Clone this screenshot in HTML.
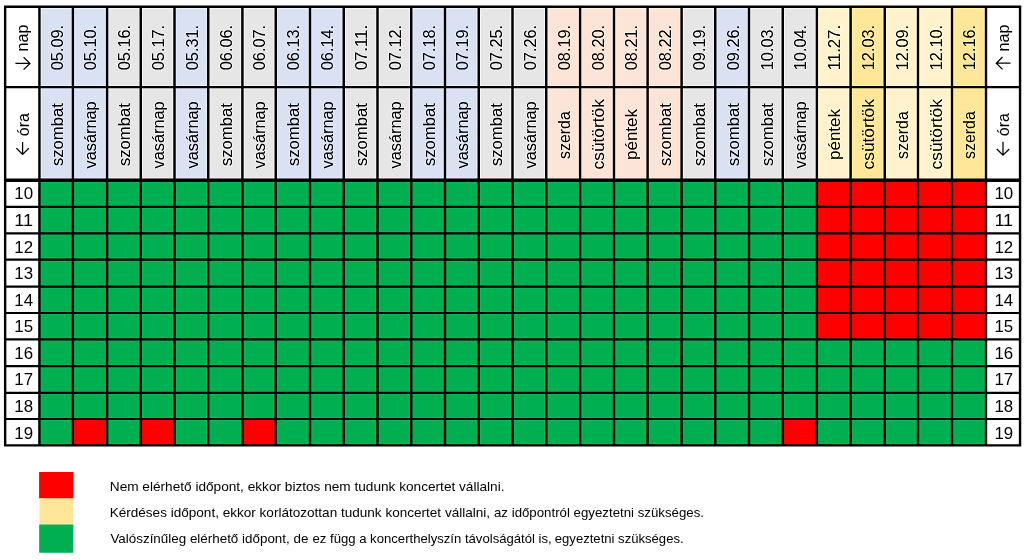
<!DOCTYPE html><html><head><meta charset="utf-8"><style>html,body{margin:0;padding:0;background:#fff;width:1024px;height:560px;overflow:hidden}svg{display:block}text{font-family:"Liberation Sans",sans-serif;fill:#000}</style></head><body><svg width="1024" height="560" viewBox="0 0 1024 560"><rect width="1024" height="560" fill="#fff"/><defs><filter id="sh" x="0" y="0" width="1024" height="560" filterUnits="userSpaceOnUse" color-interpolation-filters="sRGB"><feConvolveMatrix order="3" kernelMatrix="0 -0.08 0 -0.08 1.32 -0.08 0 -0.08 0" edgeMode="duplicate" preserveAlpha="true"/></filter></defs><g filter="url(#sh)"><rect x="39.40" y="5.50" width="33.50" height="174.80" fill="#D9E1F2"/><rect x="72.90" y="5.50" width="34.20" height="174.80" fill="#D9E1F2"/><rect x="107.10" y="5.50" width="33.65" height="174.80" fill="#E7E6E6"/><rect x="140.75" y="5.50" width="33.75" height="174.80" fill="#E7E6E6"/><rect x="174.50" y="5.50" width="33.75" height="174.80" fill="#D9E1F2"/><rect x="208.25" y="5.50" width="34.15" height="174.80" fill="#E7E6E6"/><rect x="242.40" y="5.50" width="33.35" height="174.80" fill="#E7E6E6"/><rect x="275.75" y="5.50" width="34.25" height="174.80" fill="#D9E1F2"/><rect x="310.00" y="5.50" width="33.75" height="174.80" fill="#D9E1F2"/><rect x="343.75" y="5.50" width="33.75" height="174.80" fill="#E7E6E6"/><rect x="377.50" y="5.50" width="33.75" height="174.80" fill="#E7E6E6"/><rect x="411.25" y="5.50" width="33.75" height="174.80" fill="#D9E1F2"/><rect x="445.00" y="5.50" width="33.75" height="174.80" fill="#D9E1F2"/><rect x="478.75" y="5.50" width="33.75" height="174.80" fill="#E7E6E6"/><rect x="512.50" y="5.50" width="33.75" height="174.80" fill="#E7E6E6"/><rect x="546.25" y="5.50" width="33.85" height="174.80" fill="#FCE4D6"/><rect x="580.10" y="5.50" width="33.90" height="174.80" fill="#FCE4D6"/><rect x="614.00" y="5.50" width="33.60" height="174.80" fill="#FCE4D6"/><rect x="647.60" y="5.50" width="34.00" height="174.80" fill="#FCE4D6"/><rect x="681.60" y="5.50" width="33.65" height="174.80" fill="#E7E6E6"/><rect x="715.25" y="5.50" width="33.75" height="174.80" fill="#D9E1F2"/><rect x="749.00" y="5.50" width="33.75" height="174.80" fill="#E7E6E6"/><rect x="782.75" y="5.50" width="34.15" height="174.80" fill="#E7E6E6"/><rect x="816.90" y="5.50" width="33.70" height="174.80" fill="#FFF2CC"/><rect x="850.60" y="5.50" width="34.15" height="174.80" fill="#FFE699"/><rect x="884.75" y="5.50" width="33.25" height="174.80" fill="#FFF2CC"/><rect x="918.00" y="5.50" width="34.00" height="174.80" fill="#FFF2CC"/><rect x="952.00" y="5.50" width="34.00" height="174.80" fill="#FFE699"/><rect x="39.40" y="180.30" width="33.50" height="26.57" fill="#00B050"/><rect x="72.90" y="180.30" width="34.20" height="26.57" fill="#00B050"/><rect x="107.10" y="180.30" width="33.65" height="26.57" fill="#00B050"/><rect x="140.75" y="180.30" width="33.75" height="26.57" fill="#00B050"/><rect x="174.50" y="180.30" width="33.75" height="26.57" fill="#00B050"/><rect x="208.25" y="180.30" width="34.15" height="26.57" fill="#00B050"/><rect x="242.40" y="180.30" width="33.35" height="26.57" fill="#00B050"/><rect x="275.75" y="180.30" width="34.25" height="26.57" fill="#00B050"/><rect x="310.00" y="180.30" width="33.75" height="26.57" fill="#00B050"/><rect x="343.75" y="180.30" width="33.75" height="26.57" fill="#00B050"/><rect x="377.50" y="180.30" width="33.75" height="26.57" fill="#00B050"/><rect x="411.25" y="180.30" width="33.75" height="26.57" fill="#00B050"/><rect x="445.00" y="180.30" width="33.75" height="26.57" fill="#00B050"/><rect x="478.75" y="180.30" width="33.75" height="26.57" fill="#00B050"/><rect x="512.50" y="180.30" width="33.75" height="26.57" fill="#00B050"/><rect x="546.25" y="180.30" width="33.85" height="26.57" fill="#00B050"/><rect x="580.10" y="180.30" width="33.90" height="26.57" fill="#00B050"/><rect x="614.00" y="180.30" width="33.60" height="26.57" fill="#00B050"/><rect x="647.60" y="180.30" width="34.00" height="26.57" fill="#00B050"/><rect x="681.60" y="180.30" width="33.65" height="26.57" fill="#00B050"/><rect x="715.25" y="180.30" width="33.75" height="26.57" fill="#00B050"/><rect x="749.00" y="180.30" width="33.75" height="26.57" fill="#00B050"/><rect x="782.75" y="180.30" width="34.15" height="26.57" fill="#00B050"/><rect x="816.90" y="180.30" width="33.70" height="26.57" fill="#FF0000"/><rect x="850.60" y="180.30" width="34.15" height="26.57" fill="#FF0000"/><rect x="884.75" y="180.30" width="33.25" height="26.57" fill="#FF0000"/><rect x="918.00" y="180.30" width="34.00" height="26.57" fill="#FF0000"/><rect x="952.00" y="180.30" width="34.00" height="26.57" fill="#FF0000"/><rect x="39.40" y="206.87" width="33.50" height="26.43" fill="#00B050"/><rect x="72.90" y="206.87" width="34.20" height="26.43" fill="#00B050"/><rect x="107.10" y="206.87" width="33.65" height="26.43" fill="#00B050"/><rect x="140.75" y="206.87" width="33.75" height="26.43" fill="#00B050"/><rect x="174.50" y="206.87" width="33.75" height="26.43" fill="#00B050"/><rect x="208.25" y="206.87" width="34.15" height="26.43" fill="#00B050"/><rect x="242.40" y="206.87" width="33.35" height="26.43" fill="#00B050"/><rect x="275.75" y="206.87" width="34.25" height="26.43" fill="#00B050"/><rect x="310.00" y="206.87" width="33.75" height="26.43" fill="#00B050"/><rect x="343.75" y="206.87" width="33.75" height="26.43" fill="#00B050"/><rect x="377.50" y="206.87" width="33.75" height="26.43" fill="#00B050"/><rect x="411.25" y="206.87" width="33.75" height="26.43" fill="#00B050"/><rect x="445.00" y="206.87" width="33.75" height="26.43" fill="#00B050"/><rect x="478.75" y="206.87" width="33.75" height="26.43" fill="#00B050"/><rect x="512.50" y="206.87" width="33.75" height="26.43" fill="#00B050"/><rect x="546.25" y="206.87" width="33.85" height="26.43" fill="#00B050"/><rect x="580.10" y="206.87" width="33.90" height="26.43" fill="#00B050"/><rect x="614.00" y="206.87" width="33.60" height="26.43" fill="#00B050"/><rect x="647.60" y="206.87" width="34.00" height="26.43" fill="#00B050"/><rect x="681.60" y="206.87" width="33.65" height="26.43" fill="#00B050"/><rect x="715.25" y="206.87" width="33.75" height="26.43" fill="#00B050"/><rect x="749.00" y="206.87" width="33.75" height="26.43" fill="#00B050"/><rect x="782.75" y="206.87" width="34.15" height="26.43" fill="#00B050"/><rect x="816.90" y="206.87" width="33.70" height="26.43" fill="#FF0000"/><rect x="850.60" y="206.87" width="34.15" height="26.43" fill="#FF0000"/><rect x="884.75" y="206.87" width="33.25" height="26.43" fill="#FF0000"/><rect x="918.00" y="206.87" width="34.00" height="26.43" fill="#FF0000"/><rect x="952.00" y="206.87" width="34.00" height="26.43" fill="#FF0000"/><rect x="39.40" y="233.30" width="33.50" height="26.30" fill="#00B050"/><rect x="72.90" y="233.30" width="34.20" height="26.30" fill="#00B050"/><rect x="107.10" y="233.30" width="33.65" height="26.30" fill="#00B050"/><rect x="140.75" y="233.30" width="33.75" height="26.30" fill="#00B050"/><rect x="174.50" y="233.30" width="33.75" height="26.30" fill="#00B050"/><rect x="208.25" y="233.30" width="34.15" height="26.30" fill="#00B050"/><rect x="242.40" y="233.30" width="33.35" height="26.30" fill="#00B050"/><rect x="275.75" y="233.30" width="34.25" height="26.30" fill="#00B050"/><rect x="310.00" y="233.30" width="33.75" height="26.30" fill="#00B050"/><rect x="343.75" y="233.30" width="33.75" height="26.30" fill="#00B050"/><rect x="377.50" y="233.30" width="33.75" height="26.30" fill="#00B050"/><rect x="411.25" y="233.30" width="33.75" height="26.30" fill="#00B050"/><rect x="445.00" y="233.30" width="33.75" height="26.30" fill="#00B050"/><rect x="478.75" y="233.30" width="33.75" height="26.30" fill="#00B050"/><rect x="512.50" y="233.30" width="33.75" height="26.30" fill="#00B050"/><rect x="546.25" y="233.30" width="33.85" height="26.30" fill="#00B050"/><rect x="580.10" y="233.30" width="33.90" height="26.30" fill="#00B050"/><rect x="614.00" y="233.30" width="33.60" height="26.30" fill="#00B050"/><rect x="647.60" y="233.30" width="34.00" height="26.30" fill="#00B050"/><rect x="681.60" y="233.30" width="33.65" height="26.30" fill="#00B050"/><rect x="715.25" y="233.30" width="33.75" height="26.30" fill="#00B050"/><rect x="749.00" y="233.30" width="33.75" height="26.30" fill="#00B050"/><rect x="782.75" y="233.30" width="34.15" height="26.30" fill="#00B050"/><rect x="816.90" y="233.30" width="33.70" height="26.30" fill="#FF0000"/><rect x="850.60" y="233.30" width="34.15" height="26.30" fill="#FF0000"/><rect x="884.75" y="233.30" width="33.25" height="26.30" fill="#FF0000"/><rect x="918.00" y="233.30" width="34.00" height="26.30" fill="#FF0000"/><rect x="952.00" y="233.30" width="34.00" height="26.30" fill="#FF0000"/><rect x="39.40" y="259.60" width="33.50" height="27.05" fill="#00B050"/><rect x="72.90" y="259.60" width="34.20" height="27.05" fill="#00B050"/><rect x="107.10" y="259.60" width="33.65" height="27.05" fill="#00B050"/><rect x="140.75" y="259.60" width="33.75" height="27.05" fill="#00B050"/><rect x="174.50" y="259.60" width="33.75" height="27.05" fill="#00B050"/><rect x="208.25" y="259.60" width="34.15" height="27.05" fill="#00B050"/><rect x="242.40" y="259.60" width="33.35" height="27.05" fill="#00B050"/><rect x="275.75" y="259.60" width="34.25" height="27.05" fill="#00B050"/><rect x="310.00" y="259.60" width="33.75" height="27.05" fill="#00B050"/><rect x="343.75" y="259.60" width="33.75" height="27.05" fill="#00B050"/><rect x="377.50" y="259.60" width="33.75" height="27.05" fill="#00B050"/><rect x="411.25" y="259.60" width="33.75" height="27.05" fill="#00B050"/><rect x="445.00" y="259.60" width="33.75" height="27.05" fill="#00B050"/><rect x="478.75" y="259.60" width="33.75" height="27.05" fill="#00B050"/><rect x="512.50" y="259.60" width="33.75" height="27.05" fill="#00B050"/><rect x="546.25" y="259.60" width="33.85" height="27.05" fill="#00B050"/><rect x="580.10" y="259.60" width="33.90" height="27.05" fill="#00B050"/><rect x="614.00" y="259.60" width="33.60" height="27.05" fill="#00B050"/><rect x="647.60" y="259.60" width="34.00" height="27.05" fill="#00B050"/><rect x="681.60" y="259.60" width="33.65" height="27.05" fill="#00B050"/><rect x="715.25" y="259.60" width="33.75" height="27.05" fill="#00B050"/><rect x="749.00" y="259.60" width="33.75" height="27.05" fill="#00B050"/><rect x="782.75" y="259.60" width="34.15" height="27.05" fill="#00B050"/><rect x="816.90" y="259.60" width="33.70" height="27.05" fill="#FF0000"/><rect x="850.60" y="259.60" width="34.15" height="27.05" fill="#FF0000"/><rect x="884.75" y="259.60" width="33.25" height="27.05" fill="#FF0000"/><rect x="918.00" y="259.60" width="34.00" height="27.05" fill="#FF0000"/><rect x="952.00" y="259.60" width="34.00" height="27.05" fill="#FF0000"/><rect x="39.40" y="286.65" width="33.50" height="26.35" fill="#00B050"/><rect x="72.90" y="286.65" width="34.20" height="26.35" fill="#00B050"/><rect x="107.10" y="286.65" width="33.65" height="26.35" fill="#00B050"/><rect x="140.75" y="286.65" width="33.75" height="26.35" fill="#00B050"/><rect x="174.50" y="286.65" width="33.75" height="26.35" fill="#00B050"/><rect x="208.25" y="286.65" width="34.15" height="26.35" fill="#00B050"/><rect x="242.40" y="286.65" width="33.35" height="26.35" fill="#00B050"/><rect x="275.75" y="286.65" width="34.25" height="26.35" fill="#00B050"/><rect x="310.00" y="286.65" width="33.75" height="26.35" fill="#00B050"/><rect x="343.75" y="286.65" width="33.75" height="26.35" fill="#00B050"/><rect x="377.50" y="286.65" width="33.75" height="26.35" fill="#00B050"/><rect x="411.25" y="286.65" width="33.75" height="26.35" fill="#00B050"/><rect x="445.00" y="286.65" width="33.75" height="26.35" fill="#00B050"/><rect x="478.75" y="286.65" width="33.75" height="26.35" fill="#00B050"/><rect x="512.50" y="286.65" width="33.75" height="26.35" fill="#00B050"/><rect x="546.25" y="286.65" width="33.85" height="26.35" fill="#00B050"/><rect x="580.10" y="286.65" width="33.90" height="26.35" fill="#00B050"/><rect x="614.00" y="286.65" width="33.60" height="26.35" fill="#00B050"/><rect x="647.60" y="286.65" width="34.00" height="26.35" fill="#00B050"/><rect x="681.60" y="286.65" width="33.65" height="26.35" fill="#00B050"/><rect x="715.25" y="286.65" width="33.75" height="26.35" fill="#00B050"/><rect x="749.00" y="286.65" width="33.75" height="26.35" fill="#00B050"/><rect x="782.75" y="286.65" width="34.15" height="26.35" fill="#00B050"/><rect x="816.90" y="286.65" width="33.70" height="26.35" fill="#FF0000"/><rect x="850.60" y="286.65" width="34.15" height="26.35" fill="#FF0000"/><rect x="884.75" y="286.65" width="33.25" height="26.35" fill="#FF0000"/><rect x="918.00" y="286.65" width="34.00" height="26.35" fill="#FF0000"/><rect x="952.00" y="286.65" width="34.00" height="26.35" fill="#FF0000"/><rect x="39.40" y="313.00" width="33.50" height="26.43" fill="#00B050"/><rect x="72.90" y="313.00" width="34.20" height="26.43" fill="#00B050"/><rect x="107.10" y="313.00" width="33.65" height="26.43" fill="#00B050"/><rect x="140.75" y="313.00" width="33.75" height="26.43" fill="#00B050"/><rect x="174.50" y="313.00" width="33.75" height="26.43" fill="#00B050"/><rect x="208.25" y="313.00" width="34.15" height="26.43" fill="#00B050"/><rect x="242.40" y="313.00" width="33.35" height="26.43" fill="#00B050"/><rect x="275.75" y="313.00" width="34.25" height="26.43" fill="#00B050"/><rect x="310.00" y="313.00" width="33.75" height="26.43" fill="#00B050"/><rect x="343.75" y="313.00" width="33.75" height="26.43" fill="#00B050"/><rect x="377.50" y="313.00" width="33.75" height="26.43" fill="#00B050"/><rect x="411.25" y="313.00" width="33.75" height="26.43" fill="#00B050"/><rect x="445.00" y="313.00" width="33.75" height="26.43" fill="#00B050"/><rect x="478.75" y="313.00" width="33.75" height="26.43" fill="#00B050"/><rect x="512.50" y="313.00" width="33.75" height="26.43" fill="#00B050"/><rect x="546.25" y="313.00" width="33.85" height="26.43" fill="#00B050"/><rect x="580.10" y="313.00" width="33.90" height="26.43" fill="#00B050"/><rect x="614.00" y="313.00" width="33.60" height="26.43" fill="#00B050"/><rect x="647.60" y="313.00" width="34.00" height="26.43" fill="#00B050"/><rect x="681.60" y="313.00" width="33.65" height="26.43" fill="#00B050"/><rect x="715.25" y="313.00" width="33.75" height="26.43" fill="#00B050"/><rect x="749.00" y="313.00" width="33.75" height="26.43" fill="#00B050"/><rect x="782.75" y="313.00" width="34.15" height="26.43" fill="#00B050"/><rect x="816.90" y="313.00" width="33.70" height="26.43" fill="#FF0000"/><rect x="850.60" y="313.00" width="34.15" height="26.43" fill="#FF0000"/><rect x="884.75" y="313.00" width="33.25" height="26.43" fill="#FF0000"/><rect x="918.00" y="313.00" width="34.00" height="26.43" fill="#FF0000"/><rect x="952.00" y="313.00" width="34.00" height="26.43" fill="#FF0000"/><rect x="39.40" y="339.43" width="33.50" height="26.67" fill="#00B050"/><rect x="72.90" y="339.43" width="34.20" height="26.67" fill="#00B050"/><rect x="107.10" y="339.43" width="33.65" height="26.67" fill="#00B050"/><rect x="140.75" y="339.43" width="33.75" height="26.67" fill="#00B050"/><rect x="174.50" y="339.43" width="33.75" height="26.67" fill="#00B050"/><rect x="208.25" y="339.43" width="34.15" height="26.67" fill="#00B050"/><rect x="242.40" y="339.43" width="33.35" height="26.67" fill="#00B050"/><rect x="275.75" y="339.43" width="34.25" height="26.67" fill="#00B050"/><rect x="310.00" y="339.43" width="33.75" height="26.67" fill="#00B050"/><rect x="343.75" y="339.43" width="33.75" height="26.67" fill="#00B050"/><rect x="377.50" y="339.43" width="33.75" height="26.67" fill="#00B050"/><rect x="411.25" y="339.43" width="33.75" height="26.67" fill="#00B050"/><rect x="445.00" y="339.43" width="33.75" height="26.67" fill="#00B050"/><rect x="478.75" y="339.43" width="33.75" height="26.67" fill="#00B050"/><rect x="512.50" y="339.43" width="33.75" height="26.67" fill="#00B050"/><rect x="546.25" y="339.43" width="33.85" height="26.67" fill="#00B050"/><rect x="580.10" y="339.43" width="33.90" height="26.67" fill="#00B050"/><rect x="614.00" y="339.43" width="33.60" height="26.67" fill="#00B050"/><rect x="647.60" y="339.43" width="34.00" height="26.67" fill="#00B050"/><rect x="681.60" y="339.43" width="33.65" height="26.67" fill="#00B050"/><rect x="715.25" y="339.43" width="33.75" height="26.67" fill="#00B050"/><rect x="749.00" y="339.43" width="33.75" height="26.67" fill="#00B050"/><rect x="782.75" y="339.43" width="34.15" height="26.67" fill="#00B050"/><rect x="816.90" y="339.43" width="33.70" height="26.67" fill="#00B050"/><rect x="850.60" y="339.43" width="34.15" height="26.67" fill="#00B050"/><rect x="884.75" y="339.43" width="33.25" height="26.67" fill="#00B050"/><rect x="918.00" y="339.43" width="34.00" height="26.67" fill="#00B050"/><rect x="952.00" y="339.43" width="34.00" height="26.67" fill="#00B050"/><rect x="39.40" y="366.10" width="33.50" height="26.70" fill="#00B050"/><rect x="72.90" y="366.10" width="34.20" height="26.70" fill="#00B050"/><rect x="107.10" y="366.10" width="33.65" height="26.70" fill="#00B050"/><rect x="140.75" y="366.10" width="33.75" height="26.70" fill="#00B050"/><rect x="174.50" y="366.10" width="33.75" height="26.70" fill="#00B050"/><rect x="208.25" y="366.10" width="34.15" height="26.70" fill="#00B050"/><rect x="242.40" y="366.10" width="33.35" height="26.70" fill="#00B050"/><rect x="275.75" y="366.10" width="34.25" height="26.70" fill="#00B050"/><rect x="310.00" y="366.10" width="33.75" height="26.70" fill="#00B050"/><rect x="343.75" y="366.10" width="33.75" height="26.70" fill="#00B050"/><rect x="377.50" y="366.10" width="33.75" height="26.70" fill="#00B050"/><rect x="411.25" y="366.10" width="33.75" height="26.70" fill="#00B050"/><rect x="445.00" y="366.10" width="33.75" height="26.70" fill="#00B050"/><rect x="478.75" y="366.10" width="33.75" height="26.70" fill="#00B050"/><rect x="512.50" y="366.10" width="33.75" height="26.70" fill="#00B050"/><rect x="546.25" y="366.10" width="33.85" height="26.70" fill="#00B050"/><rect x="580.10" y="366.10" width="33.90" height="26.70" fill="#00B050"/><rect x="614.00" y="366.10" width="33.60" height="26.70" fill="#00B050"/><rect x="647.60" y="366.10" width="34.00" height="26.70" fill="#00B050"/><rect x="681.60" y="366.10" width="33.65" height="26.70" fill="#00B050"/><rect x="715.25" y="366.10" width="33.75" height="26.70" fill="#00B050"/><rect x="749.00" y="366.10" width="33.75" height="26.70" fill="#00B050"/><rect x="782.75" y="366.10" width="34.15" height="26.70" fill="#00B050"/><rect x="816.90" y="366.10" width="33.70" height="26.70" fill="#00B050"/><rect x="850.60" y="366.10" width="34.15" height="26.70" fill="#00B050"/><rect x="884.75" y="366.10" width="33.25" height="26.70" fill="#00B050"/><rect x="918.00" y="366.10" width="34.00" height="26.70" fill="#00B050"/><rect x="952.00" y="366.10" width="34.00" height="26.70" fill="#00B050"/><rect x="39.40" y="392.80" width="33.50" height="26.20" fill="#00B050"/><rect x="72.90" y="392.80" width="34.20" height="26.20" fill="#00B050"/><rect x="107.10" y="392.80" width="33.65" height="26.20" fill="#00B050"/><rect x="140.75" y="392.80" width="33.75" height="26.20" fill="#00B050"/><rect x="174.50" y="392.80" width="33.75" height="26.20" fill="#00B050"/><rect x="208.25" y="392.80" width="34.15" height="26.20" fill="#00B050"/><rect x="242.40" y="392.80" width="33.35" height="26.20" fill="#00B050"/><rect x="275.75" y="392.80" width="34.25" height="26.20" fill="#00B050"/><rect x="310.00" y="392.80" width="33.75" height="26.20" fill="#00B050"/><rect x="343.75" y="392.80" width="33.75" height="26.20" fill="#00B050"/><rect x="377.50" y="392.80" width="33.75" height="26.20" fill="#00B050"/><rect x="411.25" y="392.80" width="33.75" height="26.20" fill="#00B050"/><rect x="445.00" y="392.80" width="33.75" height="26.20" fill="#00B050"/><rect x="478.75" y="392.80" width="33.75" height="26.20" fill="#00B050"/><rect x="512.50" y="392.80" width="33.75" height="26.20" fill="#00B050"/><rect x="546.25" y="392.80" width="33.85" height="26.20" fill="#00B050"/><rect x="580.10" y="392.80" width="33.90" height="26.20" fill="#00B050"/><rect x="614.00" y="392.80" width="33.60" height="26.20" fill="#00B050"/><rect x="647.60" y="392.80" width="34.00" height="26.20" fill="#00B050"/><rect x="681.60" y="392.80" width="33.65" height="26.20" fill="#00B050"/><rect x="715.25" y="392.80" width="33.75" height="26.20" fill="#00B050"/><rect x="749.00" y="392.80" width="33.75" height="26.20" fill="#00B050"/><rect x="782.75" y="392.80" width="34.15" height="26.20" fill="#00B050"/><rect x="816.90" y="392.80" width="33.70" height="26.20" fill="#00B050"/><rect x="850.60" y="392.80" width="34.15" height="26.20" fill="#00B050"/><rect x="884.75" y="392.80" width="33.25" height="26.20" fill="#00B050"/><rect x="918.00" y="392.80" width="34.00" height="26.20" fill="#00B050"/><rect x="952.00" y="392.80" width="34.00" height="26.20" fill="#00B050"/><rect x="39.40" y="419.00" width="33.50" height="26.45" fill="#00B050"/><rect x="72.90" y="419.00" width="34.20" height="26.45" fill="#FF0000"/><rect x="107.10" y="419.00" width="33.65" height="26.45" fill="#00B050"/><rect x="140.75" y="419.00" width="33.75" height="26.45" fill="#FF0000"/><rect x="174.50" y="419.00" width="33.75" height="26.45" fill="#00B050"/><rect x="208.25" y="419.00" width="34.15" height="26.45" fill="#00B050"/><rect x="242.40" y="419.00" width="33.35" height="26.45" fill="#FF0000"/><rect x="275.75" y="419.00" width="34.25" height="26.45" fill="#00B050"/><rect x="310.00" y="419.00" width="33.75" height="26.45" fill="#00B050"/><rect x="343.75" y="419.00" width="33.75" height="26.45" fill="#00B050"/><rect x="377.50" y="419.00" width="33.75" height="26.45" fill="#00B050"/><rect x="411.25" y="419.00" width="33.75" height="26.45" fill="#00B050"/><rect x="445.00" y="419.00" width="33.75" height="26.45" fill="#00B050"/><rect x="478.75" y="419.00" width="33.75" height="26.45" fill="#00B050"/><rect x="512.50" y="419.00" width="33.75" height="26.45" fill="#00B050"/><rect x="546.25" y="419.00" width="33.85" height="26.45" fill="#00B050"/><rect x="580.10" y="419.00" width="33.90" height="26.45" fill="#00B050"/><rect x="614.00" y="419.00" width="33.60" height="26.45" fill="#00B050"/><rect x="647.60" y="419.00" width="34.00" height="26.45" fill="#00B050"/><rect x="681.60" y="419.00" width="33.65" height="26.45" fill="#00B050"/><rect x="715.25" y="419.00" width="33.75" height="26.45" fill="#00B050"/><rect x="749.00" y="419.00" width="33.75" height="26.45" fill="#00B050"/><rect x="782.75" y="419.00" width="34.15" height="26.45" fill="#FF0000"/><rect x="816.90" y="419.00" width="33.70" height="26.45" fill="#00B050"/><rect x="850.60" y="419.00" width="34.15" height="26.45" fill="#00B050"/><rect x="884.75" y="419.00" width="33.25" height="26.45" fill="#00B050"/><rect x="918.00" y="419.00" width="34.00" height="26.45" fill="#00B050"/><rect x="952.00" y="419.00" width="34.00" height="26.45" fill="#00B050"/><path fill="#000" fill-rule="nonzero" d="M3.95 5.50h2.40v441.10h-2.40zM38.20 5.50h2.40v441.10h-2.40zM71.70 5.50h2.40v441.10h-2.40zM105.90 5.50h2.40v441.10h-2.40zM139.55 5.50h2.40v441.10h-2.40zM173.30 5.50h2.40v441.10h-2.40zM207.05 5.50h2.40v441.10h-2.40zM241.20 5.50h2.40v441.10h-2.40zM274.55 5.50h2.40v441.10h-2.40zM308.80 5.50h2.40v441.10h-2.40zM342.55 5.50h2.40v441.10h-2.40zM376.30 5.50h2.40v441.10h-2.40zM410.05 5.50h2.40v441.10h-2.40zM443.80 5.50h2.40v441.10h-2.40zM477.55 5.50h2.40v441.10h-2.40zM511.30 5.50h2.40v441.10h-2.40zM545.05 5.50h2.40v441.10h-2.40zM578.90 5.50h2.40v441.10h-2.40zM612.80 5.50h2.40v441.10h-2.40zM646.40 5.50h2.40v441.10h-2.40zM680.40 5.50h2.40v441.10h-2.40zM714.05 5.50h2.40v441.10h-2.40zM747.80 5.50h2.40v441.10h-2.40zM781.55 5.50h2.40v441.10h-2.40zM815.70 5.50h2.40v441.10h-2.40zM849.40 5.50h2.40v441.10h-2.40zM883.55 5.50h2.40v441.10h-2.40zM916.80 5.50h2.40v441.10h-2.40zM950.80 5.50h2.40v441.10h-2.40zM984.80 5.50h2.40v441.10h-2.40zM1018.85 5.50h2.40v441.10h-2.40zM3.95 5.50h1017.30v2.40h-1017.30zM3.95 86.05h1017.30v2.30h-1017.30zM3.95 178.60h1017.30v3.40h-1017.30zM3.95 205.77h1017.30v2.20h-1017.30zM3.95 232.20h1017.30v2.20h-1017.30zM3.95 258.50h1017.30v2.20h-1017.30zM3.95 285.55h1017.30v2.20h-1017.30zM3.95 311.90h1017.30v2.20h-1017.30zM3.95 338.33h1017.30v2.20h-1017.30zM3.95 365.00h1017.30v2.20h-1017.30zM3.95 391.70h1017.30v2.20h-1017.30zM3.95 417.90h1017.30v2.20h-1017.30zM3.95 444.30h1017.30v2.30h-1017.30z"/><text transform="translate(62.63,47.60) rotate(-90)" text-anchor="middle" font-size="16.5" textLength="45.40" lengthAdjust="spacingAndGlyphs">05.09.</text><text transform="translate(62.63,134.60) rotate(-90)" text-anchor="middle" font-size="16.5" textLength="62.90" lengthAdjust="spacingAndGlyphs">szombat</text><text transform="translate(96.43,47.60) rotate(-90)" text-anchor="middle" font-size="16.5" textLength="45.40" lengthAdjust="spacingAndGlyphs">05.10.</text><text transform="translate(96.43,134.90) rotate(-90)" text-anchor="middle" font-size="16.5" textLength="67.20" lengthAdjust="spacingAndGlyphs">vasárnap</text><text transform="translate(130.24,47.60) rotate(-90)" text-anchor="middle" font-size="16.5" textLength="45.40" lengthAdjust="spacingAndGlyphs">05.16.</text><text transform="translate(130.24,134.60) rotate(-90)" text-anchor="middle" font-size="16.5" textLength="62.90" lengthAdjust="spacingAndGlyphs">szombat</text><text transform="translate(164.05,47.60) rotate(-90)" text-anchor="middle" font-size="16.5" textLength="45.40" lengthAdjust="spacingAndGlyphs">05.17.</text><text transform="translate(164.05,134.90) rotate(-90)" text-anchor="middle" font-size="16.5" textLength="67.20" lengthAdjust="spacingAndGlyphs">vasárnap</text><text transform="translate(197.86,47.60) rotate(-90)" text-anchor="middle" font-size="16.5" textLength="45.40" lengthAdjust="spacingAndGlyphs">05.31.</text><text transform="translate(197.86,134.90) rotate(-90)" text-anchor="middle" font-size="16.5" textLength="67.20" lengthAdjust="spacingAndGlyphs">vasárnap</text><text transform="translate(231.66,47.60) rotate(-90)" text-anchor="middle" font-size="16.5" textLength="45.40" lengthAdjust="spacingAndGlyphs">06.06.</text><text transform="translate(231.66,134.60) rotate(-90)" text-anchor="middle" font-size="16.5" textLength="62.90" lengthAdjust="spacingAndGlyphs">szombat</text><text transform="translate(265.47,47.60) rotate(-90)" text-anchor="middle" font-size="16.5" textLength="45.40" lengthAdjust="spacingAndGlyphs">06.07.</text><text transform="translate(265.47,134.90) rotate(-90)" text-anchor="middle" font-size="16.5" textLength="67.20" lengthAdjust="spacingAndGlyphs">vasárnap</text><text transform="translate(299.28,47.60) rotate(-90)" text-anchor="middle" font-size="16.5" textLength="45.40" lengthAdjust="spacingAndGlyphs">06.13.</text><text transform="translate(299.28,134.60) rotate(-90)" text-anchor="middle" font-size="16.5" textLength="62.90" lengthAdjust="spacingAndGlyphs">szombat</text><text transform="translate(333.08,47.60) rotate(-90)" text-anchor="middle" font-size="16.5" textLength="45.40" lengthAdjust="spacingAndGlyphs">06.14.</text><text transform="translate(333.08,134.90) rotate(-90)" text-anchor="middle" font-size="16.5" textLength="67.20" lengthAdjust="spacingAndGlyphs">vasárnap</text><text transform="translate(366.89,47.60) rotate(-90)" text-anchor="middle" font-size="16.5" textLength="45.40" lengthAdjust="spacingAndGlyphs">07.11.</text><text transform="translate(366.89,134.60) rotate(-90)" text-anchor="middle" font-size="16.5" textLength="62.90" lengthAdjust="spacingAndGlyphs">szombat</text><text transform="translate(400.70,47.60) rotate(-90)" text-anchor="middle" font-size="16.5" textLength="45.40" lengthAdjust="spacingAndGlyphs">07.12.</text><text transform="translate(400.70,134.90) rotate(-90)" text-anchor="middle" font-size="16.5" textLength="67.20" lengthAdjust="spacingAndGlyphs">vasárnap</text><text transform="translate(434.50,47.60) rotate(-90)" text-anchor="middle" font-size="16.5" textLength="45.40" lengthAdjust="spacingAndGlyphs">07.18.</text><text transform="translate(434.50,134.60) rotate(-90)" text-anchor="middle" font-size="16.5" textLength="62.90" lengthAdjust="spacingAndGlyphs">szombat</text><text transform="translate(468.31,47.60) rotate(-90)" text-anchor="middle" font-size="16.5" textLength="45.40" lengthAdjust="spacingAndGlyphs">07.19.</text><text transform="translate(468.31,134.90) rotate(-90)" text-anchor="middle" font-size="16.5" textLength="67.20" lengthAdjust="spacingAndGlyphs">vasárnap</text><text transform="translate(502.12,47.60) rotate(-90)" text-anchor="middle" font-size="16.5" textLength="45.40" lengthAdjust="spacingAndGlyphs">07.25.</text><text transform="translate(502.12,134.60) rotate(-90)" text-anchor="middle" font-size="16.5" textLength="62.90" lengthAdjust="spacingAndGlyphs">szombat</text><text transform="translate(535.93,47.60) rotate(-90)" text-anchor="middle" font-size="16.5" textLength="45.40" lengthAdjust="spacingAndGlyphs">07.26.</text><text transform="translate(535.93,134.90) rotate(-90)" text-anchor="middle" font-size="16.5" textLength="67.20" lengthAdjust="spacingAndGlyphs">vasárnap</text><text transform="translate(569.73,47.60) rotate(-90)" text-anchor="middle" font-size="16.5" textLength="45.40" lengthAdjust="spacingAndGlyphs">08.19.</text><text transform="translate(569.73,135.10) rotate(-90)" text-anchor="middle" font-size="16.5" textLength="47.60" lengthAdjust="spacingAndGlyphs">szerda</text><text transform="translate(603.54,47.60) rotate(-90)" text-anchor="middle" font-size="16.5" textLength="45.40" lengthAdjust="spacingAndGlyphs">08.20.</text><text transform="translate(603.54,134.30) rotate(-90)" text-anchor="middle" font-size="16.5" textLength="70.30" lengthAdjust="spacingAndGlyphs">csütörtök</text><text transform="translate(637.35,47.60) rotate(-90)" text-anchor="middle" font-size="16.5" textLength="45.40" lengthAdjust="spacingAndGlyphs">08.21.</text><text transform="translate(637.35,134.50) rotate(-90)" text-anchor="middle" font-size="16.5" textLength="50.90" lengthAdjust="spacingAndGlyphs">péntek</text><text transform="translate(671.15,47.60) rotate(-90)" text-anchor="middle" font-size="16.5" textLength="45.40" lengthAdjust="spacingAndGlyphs">08.22.</text><text transform="translate(671.15,134.60) rotate(-90)" text-anchor="middle" font-size="16.5" textLength="62.90" lengthAdjust="spacingAndGlyphs">szombat</text><text transform="translate(704.96,47.60) rotate(-90)" text-anchor="middle" font-size="16.5" textLength="45.40" lengthAdjust="spacingAndGlyphs">09.19.</text><text transform="translate(704.96,134.60) rotate(-90)" text-anchor="middle" font-size="16.5" textLength="62.90" lengthAdjust="spacingAndGlyphs">szombat</text><text transform="translate(738.77,47.60) rotate(-90)" text-anchor="middle" font-size="16.5" textLength="45.40" lengthAdjust="spacingAndGlyphs">09.26.</text><text transform="translate(738.77,134.60) rotate(-90)" text-anchor="middle" font-size="16.5" textLength="62.90" lengthAdjust="spacingAndGlyphs">szombat</text><text transform="translate(772.57,47.60) rotate(-90)" text-anchor="middle" font-size="16.5" textLength="45.40" lengthAdjust="spacingAndGlyphs">10.03.</text><text transform="translate(772.57,134.60) rotate(-90)" text-anchor="middle" font-size="16.5" textLength="62.90" lengthAdjust="spacingAndGlyphs">szombat</text><text transform="translate(806.38,47.60) rotate(-90)" text-anchor="middle" font-size="16.5" textLength="45.40" lengthAdjust="spacingAndGlyphs">10.04.</text><text transform="translate(806.38,134.90) rotate(-90)" text-anchor="middle" font-size="16.5" textLength="67.20" lengthAdjust="spacingAndGlyphs">vasárnap</text><text transform="translate(840.19,47.60) rotate(-90)" text-anchor="middle" font-size="16.5" textLength="45.40" lengthAdjust="spacingAndGlyphs">11.27.</text><text transform="translate(840.19,134.50) rotate(-90)" text-anchor="middle" font-size="16.5" textLength="50.90" lengthAdjust="spacingAndGlyphs">péntek</text><text transform="translate(874.00,47.60) rotate(-90)" text-anchor="middle" font-size="16.5" textLength="45.40" lengthAdjust="spacingAndGlyphs">12.03.</text><text transform="translate(874.00,134.30) rotate(-90)" text-anchor="middle" font-size="16.5" textLength="70.30" lengthAdjust="spacingAndGlyphs">csütörtök</text><text transform="translate(907.80,47.60) rotate(-90)" text-anchor="middle" font-size="16.5" textLength="45.40" lengthAdjust="spacingAndGlyphs">12.09.</text><text transform="translate(907.80,135.10) rotate(-90)" text-anchor="middle" font-size="16.5" textLength="47.60" lengthAdjust="spacingAndGlyphs">szerda</text><text transform="translate(941.61,47.60) rotate(-90)" text-anchor="middle" font-size="16.5" textLength="45.40" lengthAdjust="spacingAndGlyphs">12.10.</text><text transform="translate(941.61,134.30) rotate(-90)" text-anchor="middle" font-size="16.5" textLength="70.30" lengthAdjust="spacingAndGlyphs">csütörtök</text><text transform="translate(975.42,47.60) rotate(-90)" text-anchor="middle" font-size="16.5" textLength="45.40" lengthAdjust="spacingAndGlyphs">12.16.</text><text transform="translate(975.42,135.10) rotate(-90)" text-anchor="middle" font-size="16.5" textLength="47.60" lengthAdjust="spacingAndGlyphs">szerda</text><text transform="translate(28.10,37.95) rotate(-90)" text-anchor="middle" font-size="16.5" textLength="26.90" lengthAdjust="spacingAndGlyphs">nap</text><text transform="translate(28.75,124.70) rotate(-90)" text-anchor="middle" font-size="16.5" textLength="23.10" lengthAdjust="spacingAndGlyphs">óra</text><text transform="translate(1008.82,37.90) rotate(-90)" text-anchor="middle" font-size="16.5" textLength="27.10" lengthAdjust="spacingAndGlyphs">nap</text><text transform="translate(1008.97,124.70) rotate(-90)" text-anchor="middle" font-size="16.5" textLength="23.00" lengthAdjust="spacingAndGlyphs">óra</text><g fill="none" stroke="#000" stroke-width="1.25"><path d="M15.4 63.4 H29.9 M23.6 57.2 L29.9 63.4 L23.6 69.6"/><path d="M22.6 142 V154.4 M16.4 148.2 L22.6 154.4 L28.8 148.2"/><path d="M1010.5 63.2 H996.3 M1002.5 57.0 L996.3 63.2 L1002.5 69.4"/><path d="M1003 141.8 V155.2 M996.8 149 L1003 155.2 L1009.2 149"/></g><text x="33.10" y="199.25" text-anchor="end" font-size="17" textLength="18.8" lengthAdjust="spacingAndGlyphs">10</text><text x="1013.20" y="199.25" text-anchor="end" font-size="17" textLength="18.8" lengthAdjust="spacingAndGlyphs">10</text><text x="33.10" y="226.45" text-anchor="end" font-size="17" textLength="18.8" lengthAdjust="spacingAndGlyphs">11</text><text x="1013.20" y="226.45" text-anchor="end" font-size="17" textLength="18.8" lengthAdjust="spacingAndGlyphs">11</text><text x="33.10" y="252.95" text-anchor="end" font-size="17" textLength="18.8" lengthAdjust="spacingAndGlyphs">12</text><text x="1013.20" y="252.95" text-anchor="end" font-size="17" textLength="18.8" lengthAdjust="spacingAndGlyphs">12</text><text x="33.10" y="278.65" text-anchor="end" font-size="17" textLength="18.8" lengthAdjust="spacingAndGlyphs">13</text><text x="1013.20" y="278.65" text-anchor="end" font-size="17" textLength="18.8" lengthAdjust="spacingAndGlyphs">13</text><text x="33.10" y="305.75" text-anchor="end" font-size="17" textLength="18.8" lengthAdjust="spacingAndGlyphs">14</text><text x="1013.20" y="305.75" text-anchor="end" font-size="17" textLength="18.8" lengthAdjust="spacingAndGlyphs">14</text><text x="33.10" y="332.45" text-anchor="end" font-size="17" textLength="18.8" lengthAdjust="spacingAndGlyphs">15</text><text x="1013.20" y="332.45" text-anchor="end" font-size="17" textLength="18.8" lengthAdjust="spacingAndGlyphs">15</text><text x="33.10" y="358.70" text-anchor="end" font-size="17" textLength="18.8" lengthAdjust="spacingAndGlyphs">16</text><text x="1013.20" y="358.70" text-anchor="end" font-size="17" textLength="18.8" lengthAdjust="spacingAndGlyphs">16</text><text x="33.10" y="385.20" text-anchor="end" font-size="17" textLength="18.8" lengthAdjust="spacingAndGlyphs">17</text><text x="1013.20" y="385.20" text-anchor="end" font-size="17" textLength="18.8" lengthAdjust="spacingAndGlyphs">17</text><text x="33.10" y="412.10" text-anchor="end" font-size="17" textLength="18.8" lengthAdjust="spacingAndGlyphs">18</text><text x="1013.20" y="412.10" text-anchor="end" font-size="17" textLength="18.8" lengthAdjust="spacingAndGlyphs">18</text><text x="33.10" y="438.60" text-anchor="end" font-size="17" textLength="18.8" lengthAdjust="spacingAndGlyphs">19</text><text x="1013.20" y="438.60" text-anchor="end" font-size="17" textLength="18.8" lengthAdjust="spacingAndGlyphs">19</text><rect x="39.1" y="472.0" width="34.3" height="26.5" fill="#FF0000"/><rect x="39.1" y="498.5" width="34.3" height="26.0" fill="#FFE699"/><rect x="39.1" y="524.5" width="34.3" height="28.3" fill="#00B050"/><text x="109.80" y="490.6" font-size="13.5" fill="#2b2b2b" textLength="394.70" lengthAdjust="spacingAndGlyphs">Nem elérhető időpont, ekkor biztos nem tudunk koncertet vállalni.</text><text x="109.70" y="516.7" font-size="13.5" fill="#2b2b2b" textLength="380.40" lengthAdjust="spacingAndGlyphs">Kérdéses időpont, ekkor korlátozottan tudunk koncertet vállalni,</text><text x="494.00" y="516.7" font-size="13.5" fill="#2b2b2b" textLength="210.00" lengthAdjust="spacingAndGlyphs">az időpontról egyeztetni szükséges.</text><text x="110.40" y="543.2" font-size="13.5" fill="#2b2b2b" textLength="198.00" lengthAdjust="spacingAndGlyphs">Valószínűleg elérhető időpont, de</text><text x="312.50" y="543.2" font-size="13.5" fill="#2b2b2b" textLength="239.20" lengthAdjust="spacingAndGlyphs">ez függ a koncerthelyszín távolságától is,</text><text x="554.80" y="543.2" font-size="13.5" fill="#2b2b2b" textLength="128.80" lengthAdjust="spacingAndGlyphs">egyeztetni szükséges.</text></g></svg></body></html>
